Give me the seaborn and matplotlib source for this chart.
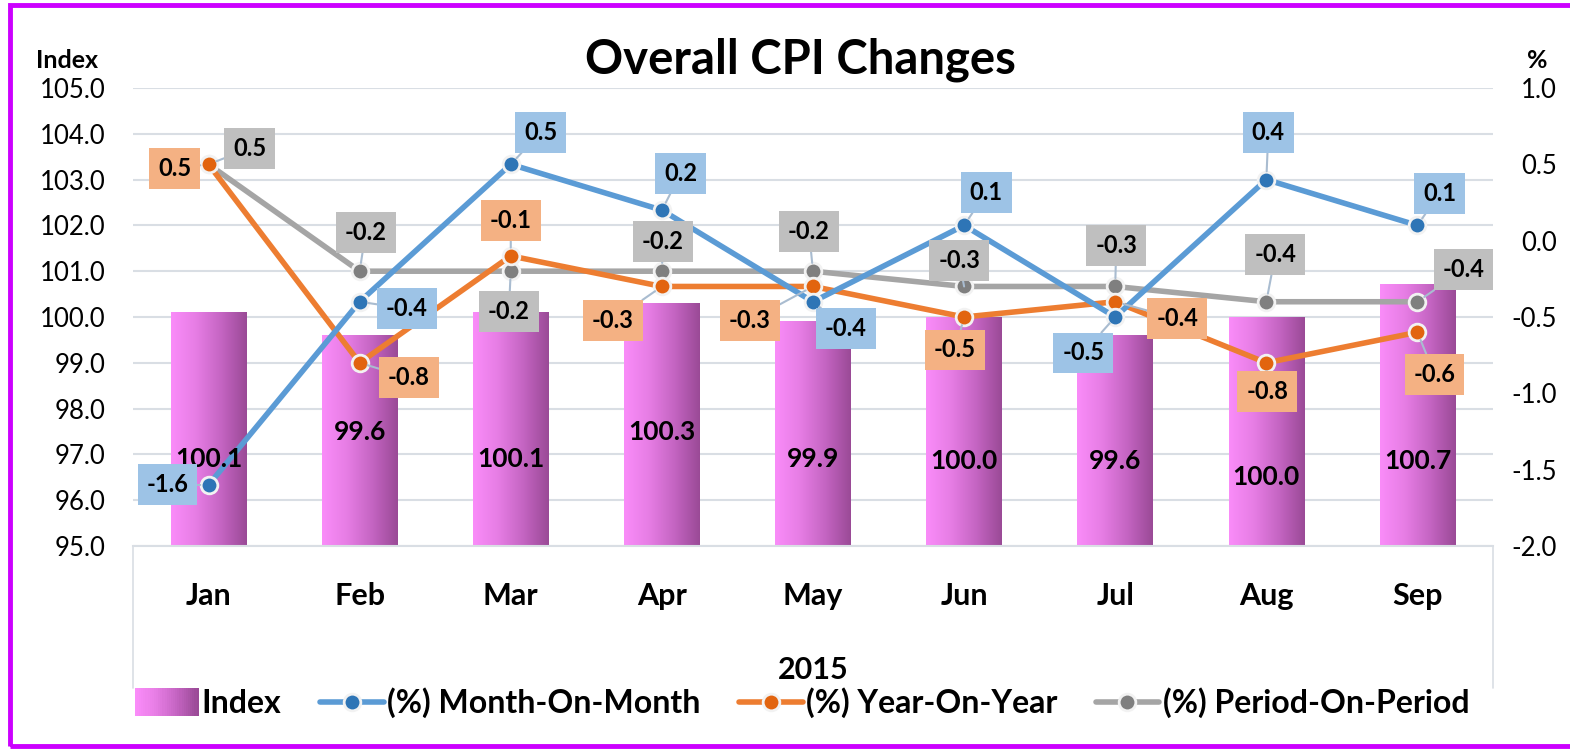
import numpy as np
import pandas as pd
import matplotlib
matplotlib.use("Agg")
import matplotlib.pyplot as plt
import seaborn as sns
from matplotlib.patches import Rectangle
from matplotlib.lines import Line2D
from matplotlib.legend_handler import HandlerBase
from matplotlib.colors import LinearSegmentedColormap

# ---------------- data ----------------
months = ["Jan", "Feb", "Mar", "Apr", "May", "Jun", "Jul", "Aug", "Sep"]
index_vals = [100.1, 99.6, 100.1, 100.3, 99.9, 100.0, 99.6, 100.0, 100.7]
mom = [-1.6, -0.4, 0.5, 0.2, -0.4, 0.1, -0.5, 0.4, 0.1]
yoy = [0.5, -0.8, -0.1, -0.3, -0.3, -0.5, -0.4, -0.8, -0.6]
pop = [0.5, -0.2, -0.2, -0.2, -0.2, -0.3, -0.3, -0.4, -0.4]
left_ticks = [95.0, 96.0, 97.0, 98.0, 99.0, 100.0, 101.0, 102.0, 103.0, 104.0, 105.0]
right_ticks = [-2.0, -1.5, -1.0, -0.5, 0.0, 0.5, 1.0]
year_label = "2015"

# label offsets (pixels, dx right, dy down) – layout only
mom_off = [(-41, 0), (47, 7), (30, -32), (19, -37), (33, 27), (22, -33), (-32, 36), (2, -47), (22, -32)]
yoy_off = [(-34, 4), (49, 15), (0, -35), (-49, 34), (-63, 34), (-9, 33), (62, 17), (1, 29), (17, 42)]
pop_off = [(41, -16), (6, -39), (-2, 40), (1, -30), (-4, -40), (-5, -26), (1, -41), (9, -47), (46, -32)]
bar_label_y = [96.9, 97.5, 96.9, 97.5, 96.9, 96.85, 96.85, 96.5, 96.85]

# ---------------- style ----------------
sns.set_theme(style="white")
plt.rcParams["font.family"] = ["Lato", "DejaVu Sans"]
for k in ["text.color", "axes.labelcolor", "xtick.color", "ytick.color"]:
    plt.rcParams[k] = "black"
DPI = 100
fig = plt.figure(figsize=(15.70, 7.49), dpi=DPI)
ax = fig.add_axes([133 / 1570, 1 - 546 / 749, 1360 / 1570, 458 / 749])

df = pd.DataFrame({"Month": months, "Index": index_vals})
sns.barplot(data=df, x="Month", y="Index", ax=ax, width=0.5, color="#D070D0",
            saturation=1, edgecolor="none", zorder=2)

# gradient fill of bars
cmap = LinearSegmentedColormap.from_list("bar", ["#FA8CF9", "#E67DE4", "#C464C2", "#9A4A96"])
grad = np.linspace(0, 1, 256).reshape(1, -1)
for p in list(ax.patches):
    x0, y0 = p.get_x(), p.get_y()
    w, h = p.get_width(), p.get_height()
    ax.imshow(grad, cmap=cmap, aspect="auto", extent=[x0, x0 + w, 95, y0 + h],
              zorder=2, interpolation="bicubic")
    p.set_facecolor("none")
ax.set_xlim(-0.5, len(months) - 0.5)
ax.set_ylim(95, 105)

ax.set_yticks(left_ticks)
ax.set_yticklabels([f"{t:.1f}" for t in left_ticks], fontsize=18.5)
ax.yaxis.grid(True, color="#D9DEE4", lw=1.5, zorder=0)
ax.set_axisbelow(True)
ax.set_xticks(range(len(months)))
ax.set_xticklabels(months, fontsize=22, fontweight="bold")
ax.tick_params(axis="x", pad=26, length=0)
ax.tick_params(axis="y", pad=20, length=0)
ax.set_xlabel(year_label, fontsize=22, fontweight="bold", labelpad=33)
ax.set_ylabel("")
for s in ["top", "right", "left"]:
    ax.spines[s].set_visible(False)
ax.spines["bottom"].set_color("#D9DEE4")
ax.spines["bottom"].set_linewidth(1.5)

# ---------------- lines on right axis ----------------
ax2 = ax.twinx()
xpos = np.arange(len(months))
series = [
    ("(%) Month-On-Month", mom, "#5B9BD5", "#2E75B6", "#9DC3E6", mom_off),
    ("(%) Year-On-Year", yoy, "#ED7D31", "#E2640F", "#F4B183", yoy_off),
    ("(%) Period-On-Period", pop, "#A5A5A5", "#7F7F7F", "#BFBFBF", pop_off),
]
order_z = {"(%) Month-On-Month": 6, "(%) Year-On-Year": 5, "(%) Period-On-Period": 4}
for name, vals, lc, mc, bc, offs in series:
    sns.lineplot(x=xpos, y=vals, ax=ax2, color=lc, lw=4, zorder=order_z[name],
                 marker="o", markersize=12, markerfacecolor=mc,
                 markeredgecolor="#F2F2F2", markeredgewidth=2)

# bar value labels drawn above the lines
for i, v in enumerate(index_vals):
    ax2.text(i, bar_label_y[i], f"{v:.1f}", ha="center", va="center",
             fontsize=19, fontweight="bold", color="black", zorder=8,
             transform=ax.transData)

for name, vals, lc, mc, bc, offs in series:
    for i, v in enumerate(vals):
        dx, dy = offs[i]
        ax2.annotate(f"{v:.1f}", xy=(i, v), xytext=(dx * 72 / DPI, -dy * 72 / DPI),
                     textcoords="offset points", ha="center", va="center",
                     fontsize=17, fontweight="bold", color="black", zorder=10,
                     bbox=dict(boxstyle="square,pad=0.38", fc=bc, ec="none"),
                     arrowprops=dict(arrowstyle="-", color="#A9BCD0", lw=1.5,
                                     shrinkA=0, shrinkB=6))
ax2.set_ylim(-2.0, 1.0)
ax2.set_yticks(right_ticks)
ax2.set_yticklabels([f"{t:.1f}" for t in right_ticks], fontsize=18.5)
ax2.tick_params(axis="y", length=0, pad=46)
for lab in ax2.get_yticklabels():
    lab.set_horizontalalignment("right")
ax2.grid(False)
for s in ax2.spines.values():
    s.set_visible(False)
ax2.set_ylabel("")
ax2.set_xlim(-0.5, len(months) - 0.5)

# ---------------- titles ----------------
fig.text(800 / 1570, 1 - 60 / 749, "Overall CPI Changes", ha="center", va="center",
         fontsize=34, fontweight="bold")
fig.text(67 / 1570, 1 - 60 / 749, "Index", ha="center", va="center",
         fontsize=18, fontweight="bold")
fig.text(1537 / 1570, 1 - 60 / 749, "%", ha="center", va="center",
         fontsize=18, fontweight="bold")

# side lines of category area
for xp in [133, 1493]:
    fig.add_artist(Line2D([xp / 1570, xp / 1570], [1 - 546 / 749, 1 - 688 / 749],
                          color="#D9DEE4", lw=1.2))


# ---------------- legend ----------------
class GradientHandler(HandlerBase):
    def create_artists(self, legend, orig_handle, xdescent, ydescent, width,
                       height, fontsize, trans):
        n = 30
        arts = []
        for k in range(n):
            r = Rectangle((-xdescent + width * k / n, -ydescent - 2), width / n + 0.3,
                          height + 4, facecolor=cmap(k / (n - 1)), edgecolor="none",
                          transform=trans)
            arts.append(r)
        return arts


bar_handle = Rectangle((0, 0), 1, 1)
handles = [bar_handle]
labels = ["Index"]
for name, vals, lc, mc, bc, offs in series:
    handles.append(Line2D([], [], color=lc, lw=4, marker="o", markersize=12,
                          markerfacecolor=mc, markeredgecolor="#F2F2F2", markeredgewidth=2))
    labels.append(name)
fig.legend(handles, labels, loc="center", bbox_to_anchor=(802 / 1570, 1 - 703 / 749),
           ncol=4, frameon=False, handler_map={Rectangle: GradientHandler()},
           prop={"weight": "bold", "size": 23}, handlelength=2.0, handletextpad=0.1,
           columnspacing=1.2, numpoints=1)

# ---------------- border ----------------
fig.add_artist(Rectangle((10 / 1570, 3 / 749), 1.1, 1 - 8 / 749, transform=fig.transFigure,
                         fill=False, edgecolor="#CC00FF", lw=3.5))

fig.savefig("out.png", dpi=DPI)
